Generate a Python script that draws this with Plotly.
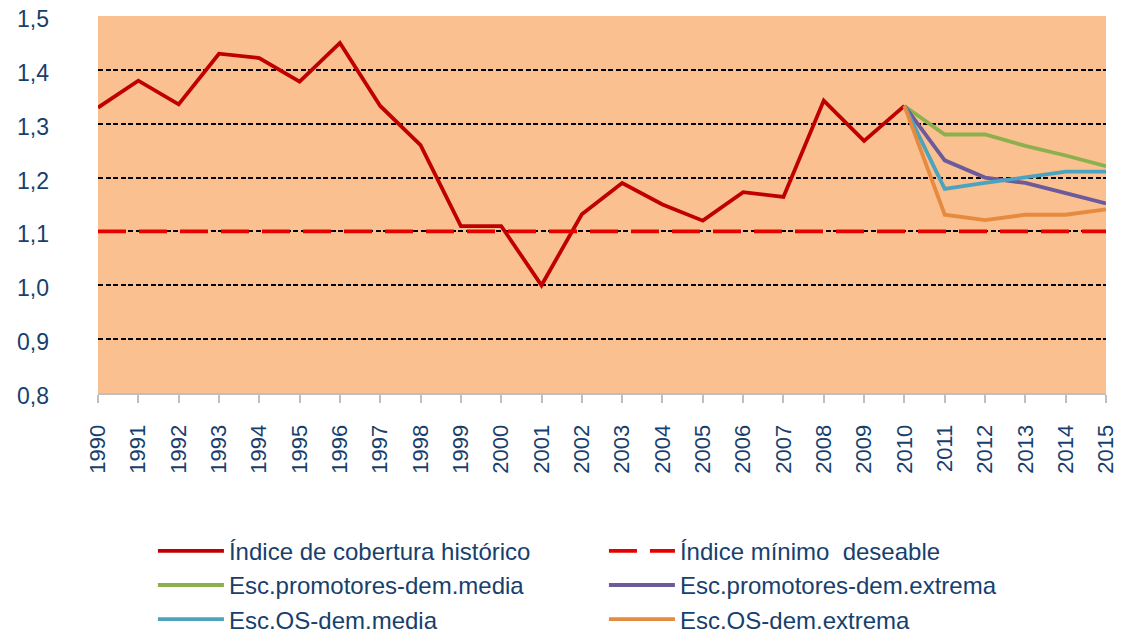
import plotly.graph_objects as go

years = list(range(1990, 2016))
hist_years = list(range(1990, 2011))
historico = [1.33, 1.38, 1.336, 1.43, 1.422, 1.378, 1.45, 1.333, 1.26, 1.11,
             1.11, 1.0, 1.132, 1.19, 1.15, 1.12, 1.173, 1.164, 1.343, 1.268, 1.333]
minimo = [1.1] * len(years)

esc_years = [2010, 2011, 2012, 2013, 2014, 2015]
prom_media = [1.333, 1.28, 1.28, 1.259, 1.241, 1.221]
prom_extrema = [1.333, 1.232, 1.2, 1.19, 1.171, 1.152]
os_media = [1.333, 1.179, 1.19, 1.2, 1.211, 1.211]
os_extrema = [1.333, 1.131, 1.121, 1.131, 1.131, 1.141]

names = ["Índice de cobertura histórico", "Índice mínimo  deseable",
         "Esc.promotores-dem.media", "Esc.promotores-dem.extrema",
         "Esc.OS-dem.media", "Esc.OS-dem.extrema"]

FONT = "Liberation Sans, Arial, sans-serif"
TXT = "#17406D"
LW = 3.8

fig = go.Figure()
fig.add_trace(go.Scatter(x=hist_years, y=historico, mode="lines", name=names[0],
                         line=dict(color="#C00000", width=LW)))
fig.add_trace(go.Scatter(x=years, y=minimo, mode="lines", name=names[1],
                         line=dict(color="#E60000", width=3.8, dash="28px,13px")))
fig.add_trace(go.Scatter(x=esc_years, y=prom_media, mode="lines", name=names[2],
                         line=dict(color="#8DB04F", width=LW)))
fig.add_trace(go.Scatter(x=esc_years, y=prom_extrema, mode="lines", name=names[3],
                         line=dict(color="#6C5A9A", width=LW)))
fig.add_trace(go.Scatter(x=esc_years, y=os_media, mode="lines", name=names[4],
                         line=dict(color="#4BA3BF", width=LW)))
fig.add_trace(go.Scatter(x=esc_years, y=os_extrema, mode="lines", name=names[5],
                         line=dict(color="#E58A3E", width=LW)))

fig.update_layout(
    width=1115, height=628,
    margin=dict(l=90, r=17, t=8, b=243, autoexpand=False),
    paper_bgcolor="white",
    plot_bgcolor="#FAC090",
    separators=", ",
    font=dict(family=FONT, size=22, color=TXT),
    showlegend=True,
    legend=dict(orientation="h", x=0.0545, xanchor="left", y=-0.36, yanchor="top",
                entrywidth=370, entrywidthmode="pixels", itemwidth=66,
                font=dict(family=FONT, size=24, color=TXT),
                tracegroupgap=0, bgcolor="rgba(0,0,0,0)"),
)
fig.update_xaxes(
    range=[1990, 2015], tickmode="array", tickvals=years,
    ticktext=[str(y) for y in years], tickangle=-90,
    showgrid=False, zeroline=False,
    showline=True, linecolor="#BFBFBF", linewidth=2,
    ticks="outside", ticklen=8, tickwidth=2, tickcolor="#BFBFBF",
    ticklabelstandoff=13, ticklabeloverflow="allow",
    tickfont=dict(family=FONT, size=22, color=TXT),
)
fig.update_yaxes(
    range=[0.8, 1.5], dtick=0.1, tick0=0.8, tickformat=".1f",
    showgrid=True, gridcolor="black", gridwidth=2, griddash="5px,2.5px",
    zeroline=False, showline=False, ticks="",
    ticklabelstandoff=48, ticklabeloverflow="allow", ticklabelshift=3,
    tickfont=dict(family=FONT, size=23, color=TXT),
)

fig.write_html("out.html")
